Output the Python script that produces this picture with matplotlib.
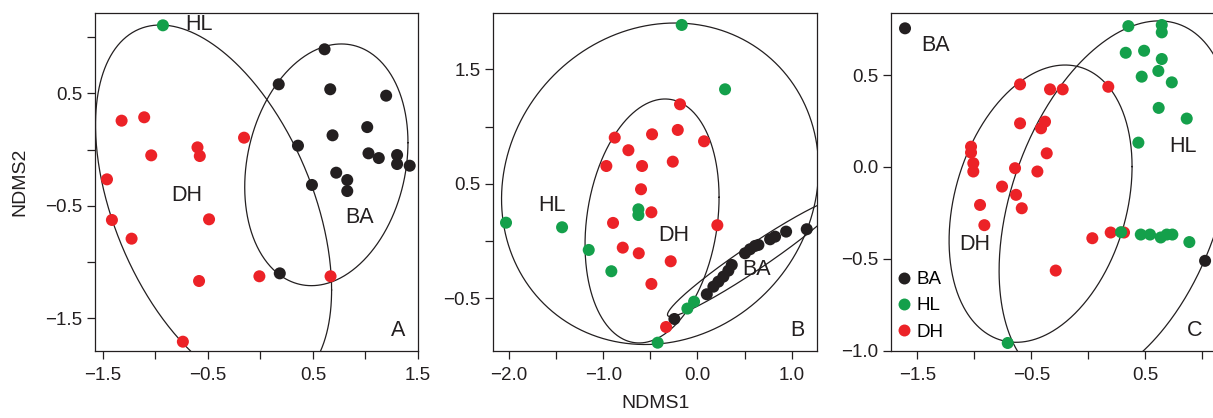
import numpy as np
import matplotlib
matplotlib.use("Agg")
import matplotlib.pyplot as plt
from matplotlib.lines import Line2D

plt.rcParams['font.family'] = ['Liberation Sans', 'DejaVu Sans']

# ---------------- data ----------------
group_names = ["BA", "HL", "DH"]
group_colors = {"BA": "#231f20", "HL": "#14a04b", "DH": "#ec2227"}

# Panel A
A_BA_x = [0.611, 0.175, 0.665, 1.197, 1.017, 0.687, 0.358, 1.029, 1.127, 1.301, 1.301, 1.421, 0.722, 0.827, 0.827, 0.491, 0.185]
A_BA_y = [0.891, 0.58, 0.536, 0.479, 0.2, 0.127, 0.035, -0.033, -0.075, -0.048, -0.128, -0.143, -0.205, -0.27, -0.368, -0.314, -1.099]
A_HL_x = [-0.927]
A_HL_y = [1.104]
A_DH_x = [-1.32, -1.105, -0.155, -0.598, -0.576, -1.038, -1.459, -1.412, -0.488, -1.225, -0.583, -0.009, 0.668, -0.737]
A_DH_y = [0.257, 0.287, 0.106, 0.02, -0.057, -0.051, -0.264, -0.625, -0.619, -0.791, -1.167, -1.125, -1.125, -1.706]

# Panel B
B_BA_x = [-0.245, 0.099, 0.169, 0.222, 0.275, 0.328, 0.364, 0.505, 0.558, 0.611, 0.647, 0.771, 0.824, 0.941, 1.160]
B_BA_y = [-0.681, -0.465, -0.399, -0.355, -0.311, -0.259, -0.209, -0.107, -0.072, -0.043, -0.034, 0.015, 0.038, 0.082, 0.103]
B_HL_x = [-0.167, 0.293, -0.627, -0.627, -2.032, -1.437, -1.154, -0.914, -0.036, -0.107, -0.422]
B_HL_y = [1.887, 1.325, 0.277, 0.227, 0.16, 0.12, -0.078, -0.264, -0.53, -0.59, -0.888]
B_DH_x = [-0.185, -0.878, -0.482, -0.209, 0.070, -0.733, -0.967, -0.588, -0.262, -0.599, -0.489, -0.896, 0.211, -0.793, -0.623, -0.284, -0.489, -0.333]
B_DH_y = [1.194, 0.903, 0.932, 0.970, 0.871, 0.793, 0.655, 0.655, 0.693, 0.452, 0.251, 0.158, 0.138, -0.058, -0.107, -0.177, -0.375, -0.751]

# Panel C
C_BA_x = [-1.608, 1.024]
C_BA_y = [0.754, -0.511]
C_HL_x = [0.351, 0.644, 0.644, 0.328, 0.489, 0.644, 0.614, 0.468, 0.732, 0.617, 0.863, 0.439, 0.287, 0.460, 0.541, 0.635, 0.688, 0.737, 0.886, -0.707]
C_HL_y = [0.766, 0.772, 0.732, 0.621, 0.632, 0.587, 0.522, 0.491, 0.460, 0.321, 0.263, 0.132, -0.355, -0.368, -0.368, -0.384, -0.368, -0.368, -0.409, -0.958]
C_DH_x = [-0.599, -0.336, -0.225, 0.175, -0.599, -0.380, -0.415, -1.029, -1.029, -1.009, -1.009, -0.643, -0.365, -0.447, -0.757, -0.634, -0.950, -0.584, -0.912, 0.035, 0.196, 0.313, -0.286]
C_DH_y = [0.449, 0.422, 0.422, 0.436, 0.237, 0.246, 0.210, 0.110, 0.078, 0.020, -0.025, -0.007, 0.074, -0.025, -0.107, -0.152, -0.207, -0.225, -0.317, -0.388, -0.357, -0.357, -0.564]

# Group dispersion ellipses: centre x, centre y, var x, var y, cov xy
A_ell_DH = (-0.445, -0.514, 1.261, 2.627, -0.823)
A_ell_BA = (0.628, -0.135, 0.603, 1.152, 0.153)
B_ell_HL = (-0.397, 0.500, 2.831, 1.971, 0.224)
B_ell_DH = (-0.482, 0.175, 0.506, 1.135, 0.147)
B_ell_BA = (0.600, -0.144, 0.843, 0.266, 0.458)
C_ell_DH = (-0.419, -0.200, 0.644, 0.569, 0.162)
C_ell_HL = (0.239, -0.196, 1.044, 0.981, 0.377)

# group label positions (text, x, y)
A_labels = [("HL", -0.58, 1.111), ("DH", -0.70, -0.41), ("BA", 0.94, -0.60)]
B_labels = [("HL", -1.547, 0.306), ("DH", -0.252, 0.046), ("BA", 0.63, -0.253)]
C_labels = [("BA", -1.338, 0.659), ("HL", 0.833, 0.110), ("DH", -0.996, -0.420)]
panel_letters = ["A", "B", "C"]

# ticks
A_xticks = [-1.5, -1.0, -0.5, 0.0, 0.5, 1.0, 1.5]
A_xticklabels = ["\u22121.5", "", "\u22120.5", "", "0.5", "", "1.5"]
A_yticks = [-1.5, -1.0, -0.5, 0.0, 0.5, 1.0]
A_yticklabels = ["\u22121.5", "", "\u22120.5", "", "0.5", ""]
B_xticks = [-2.0, -1.5, -1.0, -0.5, 0.0, 0.5, 1.0]
B_xticklabels = ["\u22122.0", "", "\u22121.0", "", "0.0", "", "1.0"]
B_yticks = [-0.5, 0.0, 0.5, 1.0, 1.5]
B_yticklabels = ["\u22120.5", "", "0.5", "", "1.5"]
C_xticks = [-1.5, -1.0, -0.5, 0.0, 0.5, 1.0]
C_xticklabels = ["\u22121.5", "", "\u22120.5", "", "0.5", ""]
C_yticks = [-1.0, -0.5, 0.0, 0.5]
C_yticklabels = ["\u22121.0", "\u22120.5", "0.0", "0.5"]

# ---------------- figure ----------------
W, H = 1213, 418
fig = plt.figure(figsize=(W / 100, H / 100), dpi=100)

def px_axes(left, right, top, bottom):
    return fig.add_axes([left / W, 1 - bottom / H, (right - left) / W, (bottom - top) / H])

axA = px_axes(95, 418, 12.7, 350.7)
axB = px_axes(493.3, 817.3, 12.7, 350.7)
axC = px_axes(891, 1215, 12.7, 350.7)

axA.set_xlim(-1.573, 1.5)
axA.set_ylim(-1.786, 1.216)
axB.set_xlim(-2.167, 1.272)
axB.set_ylim(-0.958, 1.994)
axC.set_xlim(-1.731, 1.111)
axC.set_ylim(-1.0, 0.839)

MS = 75
TICK_FS = 13.5
LAB_FS = 15.5

def draw_ellipse(ax, params):
    cx, cy, sxx, syy, sxy = params
    cov = np.array([[sxx, sxy], [sxy, syy]])
    L = np.linalg.cholesky(cov)
    t = np.linspace(0, 2 * np.pi, 500)
    pts = L @ np.vstack([np.cos(t), np.sin(t)])
    ax.plot(cx + pts[0], cy + pts[1], color="#231f20", lw=0.9, zorder=2)

def scatter(ax, x, y, g, z):
    ax.scatter(x, y, s=MS, color=group_colors[g], edgecolors="none", zorder=z)

panels = [
    (axA, [(A_BA_x, A_BA_y, "BA"), (A_DH_x, A_DH_y, "DH"), (A_HL_x, A_HL_y, "HL")],
     [A_ell_DH, A_ell_BA], A_labels, A_xticks, A_xticklabels, A_yticks, A_yticklabels),
    (axB, [(B_BA_x, B_BA_y, "BA"), (B_DH_x, B_DH_y, "DH"), (B_HL_x, B_HL_y, "HL")],
     [B_ell_HL, B_ell_DH, B_ell_BA], B_labels, B_xticks, B_xticklabels, B_yticks, B_yticklabels),
    (axC, [(C_BA_x, C_BA_y, "BA"), (C_DH_x, C_DH_y, "DH"), (C_HL_x, C_HL_y, "HL")],
     [C_ell_DH, C_ell_HL], C_labels, C_xticks, C_xticklabels, C_yticks, C_yticklabels),
]

for i, (ax, series, ells, labels, xt, xtl, yt, ytl) in enumerate(panels):
    for e in ells:
        draw_ellipse(ax, e)
    for z, (x, y, g) in enumerate(series):
        scatter(ax, x, y, g, 3 + z)
    for txt, x, y in labels:
        ax.text(x, y, txt, fontsize=LAB_FS, ha="center", va="center", color="#231f20", zorder=6)
    ax.text(0.937, 0.06, panel_letters[i], transform=ax.transAxes, fontsize=LAB_FS,
            ha="center", va="center", color="#231f20")
    ax.set_xticks(xt, xtl)
    ax.set_yticks(yt, ytl)
    ax.tick_params(axis="both", direction="out", length=6, width=0.9, labelsize=TICK_FS,
                   colors="#231f20")
    ax.tick_params(axis="x", pad=6)
    ax.tick_params(axis="y", pad=3)
    for s in ax.spines.values():
        s.set_linewidth(0.9)
        s.set_color("#231f20")

# legend in panel C
handles = [Line2D([0], [0], marker="o", linestyle="none", markersize=8.6,
                  markerfacecolor=group_colors[g], markeredgecolor="none") for g in group_names]
axC.legend(handles, group_names, loc="lower left", bbox_to_anchor=(0.02, 0.03),
           frameon=False, fontsize=TICK_FS, handlelength=0.7, handletextpad=0.3,
           labelspacing=0.48, borderpad=0.0, borderaxespad=0.0)

fig.text(655.5 / W, 1 - 404 / H, "NDMS1", fontsize=14, ha="center", va="center", color="#231f20")
fig.text(20 / W, 1 - 181.7 / H, "NDMS2", fontsize=14, ha="center", va="center",
         rotation=90, color="#231f20")

fig.savefig("out.png", dpi=100)
